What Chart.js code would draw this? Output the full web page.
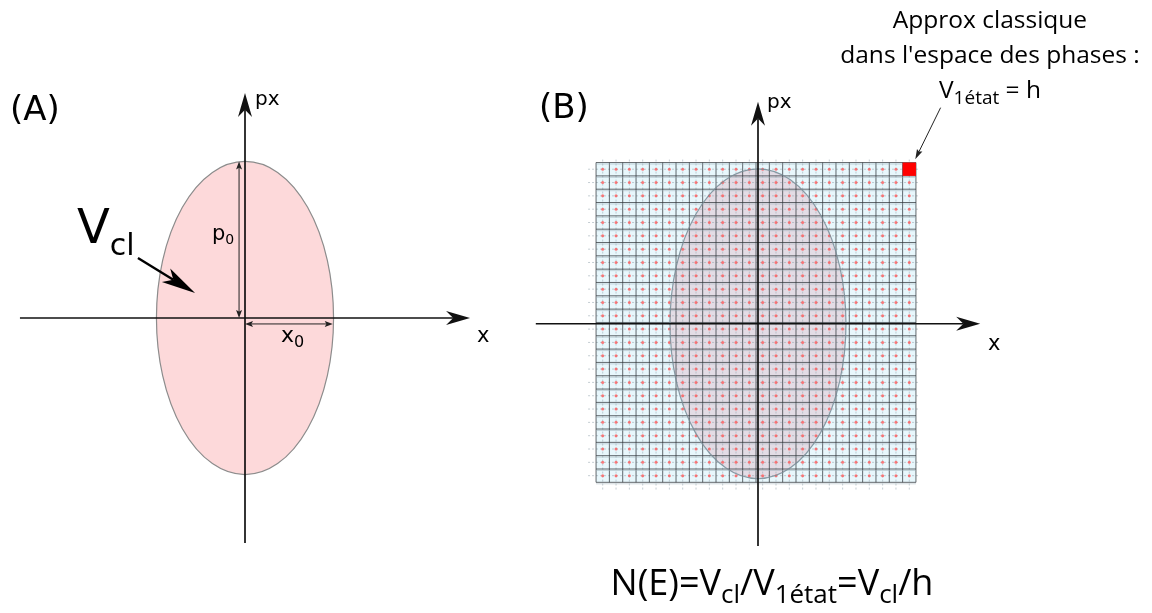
<!DOCTYPE html>
<html lang="fr">
<head>
  <meta charset="UTF-8">
  <title>Espace des phases</title>
  <script src="https://cdn.jsdelivr.net/npm/chart.js"></script>
  <style>
    body {
      margin: 0;
      width: 1152px;
      height: 613px;
      position: relative;
      overflow: hidden;
      background: #fff;
      font-family: "DejaVu Sans", sans-serif;
    }
    canvas { position: absolute; top: 0; }
    #panelA { left: 0; }
    #panelB { left: 520px; }
    .lbl { position: absolute; white-space: nowrap; line-height: 1; color: #000; }
    .sub { position: relative; }
    .calibri { font-family: "Open Sans", sans-serif; }
  </style>
</head>
<body>
  <canvas id="panelA" width="520" height="613"></canvas>
  <canvas id="panelB" width="632" height="613"></canvas>

  <!-- textes panneau A -->
  <div class="lbl" style="left:10px; top:91px; font-size:34px;">(A)</div>
  <div class="lbl" style="left:255px; top:88px; font-size:20px;">px</div>
  <div class="lbl" style="left:477px; top:325px; font-size:21px;">x</div>
  <div class="lbl" style="left:77px; top:202px; font-size:48px;">V<span class="sub" style="font-size:30px; top:12px;">cl</span></div>
  <div class="lbl" style="left:212px; top:223px; font-size:21px;">p<span class="sub" style="font-size:14px; top:4px;">0</span></div>
  <div class="lbl" style="left:281px; top:324px; font-size:22px;">x<span class="sub" style="font-size:16px; top:5px;">0</span></div>

  <!-- textes panneau B -->
  <div class="lbl" style="left:539px; top:89px; font-size:34px;">(B)</div>
  <div class="lbl" style="left:767px; top:91px; font-size:20px;">px</div>
  <div class="lbl" style="left:988px; top:333px; font-size:21px;">x</div>

  <div class="lbl calibri" style="left:790px; width:400px; top:1px; text-align:center; font-size:24.5px; line-height:35px;">
    Approx classique<br>dans l'espace des phases :<br>V<span class="sub" style="font-size:19px; top:6px;">1état</span> = h
  </div>
  <div class="lbl calibri" style="left:572px; width:400px; top:564px; text-align:center; font-size:36px;">
    N(E)=V<span class="sub" style="font-size:26px; top:8px;">cl</span>/V<span class="sub" style="font-size:26px; top:8px;">1état</span>=V<span class="sub" style="font-size:26px; top:8px;">cl</span>/h
  </div>

  <script>
    // ---- données (unité = 1 cellule h de la grille) ----
    const PX_PER_UNIT = 13.5;
    const axisLength = 16.67;                 // demi-longueur des axes x et px
    const ellipseA = { x0: 6.56, p0: 11.6 };  // demi-axes de l'ellipse (A)
    const ellipseB = { x0: 6.6, p0: 11.63 };  // demi-axes de l'ellipse (B)
    const gridCells = 24;                     // grille 24 x 24
    const gridX = [-12.15, 11.85];
    const gridY = [-11.9, 12.1];
    const stateCell = { col: 23, row: 23 };   // cellule rouge V1état (coin haut droit)
    const vclArrow = [[-7.93, 4.44], [-3.7, 1.85]];      // flèche "Vcl" -> ellipse
    const p0Arrow = [[-0.44, 0], [-0.44, 11.6]];
    const x0Arrow = [[0, -0.44], [6.5, -0.44]];
    const pointerArrow = [[13.7, 16.22], [11.8, 12.35]]; // texte -> case rouge

    // centres des cellules (pour les points rouges)
    const cellW = (gridX[1] - gridX[0]) / gridCells;
    const cellH = (gridY[1] - gridY[0]) / gridCells;
    const cellCenters = [];
    for (let i = 0; i < gridCells; i++) {
      for (let j = 0; j < gridCells; j++) {
        cellCenters.push({ x: gridX[0] + (i + 0.5) * cellW, y: gridY[0] + (j + 0.5) * cellH });
      }
    }

    // ---- petits outils de dessin ----
    function px(chart, p) {
      return { x: chart.scales.x.getPixelForValue(p[0]), y: chart.scales.y.getPixelForValue(p[1]) };
    }

    // pointe de flèche style Inkscape (triangle avec encoche)
    function arrowHead(ctx, from, to, len, wid, notch) {
      const a = Math.atan2(to.y - from.y, to.x - from.x);
      ctx.save();
      ctx.translate(to.x, to.y);
      ctx.rotate(a);
      ctx.beginPath();
      ctx.moveTo(0, 0);
      ctx.lineTo(-len, -wid / 2);
      ctx.lineTo(-len * notch, 0);
      ctx.lineTo(-len, wid / 2);
      ctx.closePath();
      ctx.fill();
      ctx.restore();
    }

    function arrow(ctx, from, to, lw, len, wid, notch, both) {
      const a = Math.atan2(to.y - from.y, to.x - from.x);
      const back = len * notch;
      const s = both ? { x: from.x + Math.cos(a) * back, y: from.y + Math.sin(a) * back } : from;
      const e = { x: to.x - Math.cos(a) * back, y: to.y - Math.sin(a) * back };
      ctx.lineWidth = lw;
      ctx.beginPath();
      ctx.moveTo(s.x, s.y);
      ctx.lineTo(e.x, e.y);
      ctx.stroke();
      arrowHead(ctx, from, to, len, wid, notch);
      if (both) arrowHead(ctx, to, from, len, wid, notch);
    }

    function drawAxes(chart, ctx) {
      ctx.strokeStyle = '#111';
      ctx.fillStyle = '#111';
      arrow(ctx, px(chart, [-axisLength, 0]), px(chart, [axisLength, 0]), 1.7, 24, 14, 0.7, false);
      arrow(ctx, px(chart, [0, -axisLength]), px(chart, [0, axisLength]), 1.7, 24, 14, 0.7, false);
    }

    function ellipse(chart, ctx, e, fill, stroke) {
      const c = px(chart, [0, 0]);
      const rx = chart.scales.x.getPixelForValue(e.x0) - c.x;
      const ry = c.y - chart.scales.y.getPixelForValue(e.p0);
      ctx.beginPath();
      ctx.ellipse(c.x, c.y, rx, ry, 0, 0, Math.PI * 2);
      if (fill) { ctx.fillStyle = fill; ctx.fill(); }
      if (stroke) { ctx.strokeStyle = stroke; ctx.lineWidth = 1.2; ctx.stroke(); }
    }

    // ---- panneau (A) ----
    const pluginA = {
      id: 'dessinA',
      afterDraw(chart) {
        const ctx = chart.ctx;
        ctx.save();
        ellipse(chart, ctx, ellipseA, '#fdd9da', '#8c8c8c');
        drawAxes(chart, ctx);
        ctx.strokeStyle = '#222';
        ctx.fillStyle = '#222';
        arrow(ctx, px(chart, p0Arrow[0]), px(chart, p0Arrow[1]), 1, 8, 6, 0.8, true);
        arrow(ctx, px(chart, x0Arrow[0]), px(chart, x0Arrow[1]), 1, 8, 6, 0.8, true);
        ctx.strokeStyle = '#000';
        ctx.fillStyle = '#000';
        arrow(ctx, px(chart, vclArrow[0]), px(chart, vclArrow[1]), 2.4, 34, 16, 0.75, false);
        ctx.restore();
      }
    };

    // ---- panneau (B) ----
    const pluginB = {
      id: 'dessinB',
      beforeDatasetsDraw(chart) {
        const ctx = chart.ctx;
        const tl = px(chart, [gridX[0], gridY[1]]);
        const br = px(chart, [gridX[1], gridY[0]]);
        ctx.save();
        // fond de la grille
        ctx.fillStyle = '#e8f7fc';
        ctx.fillRect(tl.x, tl.y, br.x - tl.x, br.y - tl.y);
        ellipse(chart, ctx, ellipseB, 'rgba(205,100,125,0.18)', null);

        // lignes pointillées aux centres des cellules
        ctx.strokeStyle = 'rgba(150,165,175,0.55)';
        ctx.lineWidth = 1;
        ctx.setLineDash([2, 2]);
        for (let i = 0; i < gridCells; i++) {
          const vx = px(chart, [gridX[0] + (i + 0.5) * cellW, 0]).x;
          const hy = px(chart, [0, gridY[0] + (i + 0.5) * cellH]).y;
          ctx.beginPath();
          ctx.moveTo(vx, tl.y - 3); ctx.lineTo(vx, br.y + 8);
          ctx.moveTo(tl.x - 8, hy); ctx.lineTo(br.x + 2, hy);
          ctx.stroke();
        }
        ctx.setLineDash([]);

        // lignes des cellules
        ctx.strokeStyle = 'rgba(50,55,60,0.75)';
        for (let i = 0; i <= gridCells; i++) {
          const vx = px(chart, [gridX[0] + i * cellW, 0]).x;
          const hy = px(chart, [0, gridY[0] + i * cellH]).y;
          ctx.beginPath();
          ctx.moveTo(vx, tl.y); ctx.lineTo(vx, br.y);
          ctx.moveTo(tl.x, hy); ctx.lineTo(br.x, hy);
          ctx.stroke();
        }
        // doublure claire des lignes horizontales
        ctx.strokeStyle = 'rgba(150,170,180,0.45)';
        for (let i = 0; i <= gridCells; i++) {
          const hy = px(chart, [0, gridY[0] + i * cellH]).y + 1.5;
          ctx.beginPath();
          ctx.moveTo(tl.x, hy); ctx.lineTo(br.x, hy);
          ctx.stroke();
        }
        ctx.restore();
      },
      afterDatasetsDraw(chart) {
        const ctx = chart.ctx;
        ctx.save();
        ellipse(chart, ctx, ellipseB, null, 'rgba(120,140,150,0.85)');

        // case rouge : volume d'un état
        const c0 = px(chart, [gridX[0] + stateCell.col * cellW, gridY[0] + (stateCell.row + 1) * cellH]);
        const c1 = px(chart, [gridX[0] + (stateCell.col + 1) * cellW, gridY[0] + stateCell.row * cellH]);
        ctx.fillStyle = '#ff0000';
        ctx.fillRect(c0.x, c0.y, c1.x - c0.x, c1.y - c0.y);

        drawAxes(chart, ctx);
        ctx.strokeStyle = '#222';
        ctx.fillStyle = '#222';
        arrow(ctx, px(chart, pointerArrow[0]), px(chart, pointerArrow[1]), 1, 10, 6, 0.85, false);
        ctx.restore();
      }
    };

    function makePanel(id, originPx, plugin, datasets) {
      const cv = document.getElementById(id);
      const w = cv.width, h = cv.height;
      return new Chart(cv, {
        type: 'scatter',
        data: { datasets: datasets },
        options: {
          responsive: false,
          animation: false,
          events: [],
          layout: { padding: 0 },
          plugins: { legend: { display: false }, tooltip: { enabled: false } },
          scales: {
            x: { type: 'linear', display: false, min: -originPx[0] / PX_PER_UNIT, max: (w - originPx[0]) / PX_PER_UNIT },
            y: { type: 'linear', display: false, min: -(h - originPx[1]) / PX_PER_UNIT, max: originPx[1] / PX_PER_UNIT }
          }
        },
        plugins: [plugin]
      });
    }

    makePanel('panelA', [245, 318], pluginA, []);
    makePanel('panelB', [237, 324], pluginB, [{
      label: 'centres',
      data: cellCenters,
      pointRadius: 1.5,
      pointBorderWidth: 0,
      pointBackgroundColor: 'rgba(255,90,90,0.8)'
    }]);
  </script>
</body>
</html>
